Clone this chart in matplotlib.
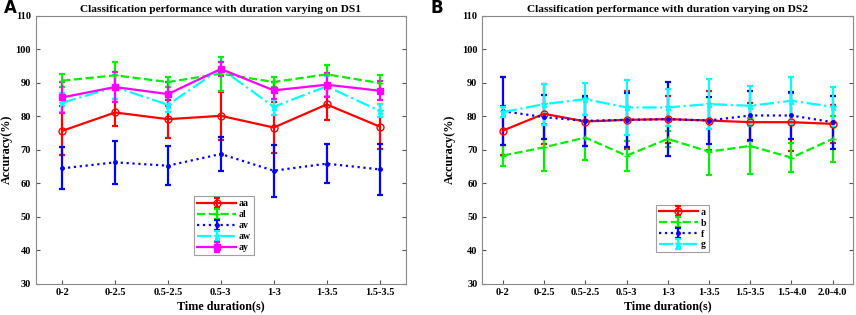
import numpy as np
import matplotlib
matplotlib.use('Agg')
import matplotlib.pyplot as plt

plt.rcParams['font.family'] = 'Liberation Serif'
plt.rcParams['font.weight'] = 'bold'

# panel A data (DS1)
labelsA = ['0-2', '0-2.5', '0.5-2.5', '0.5-3', '1-3', '1-3.5', '1.5-3.5']
aa = [75.6, 81.1, 79.1, 80.1, 76.6, 83.5, 76.9]
aa_err = [7.3, 4.0, 5.7, 7.2, 7.7, 4.7, 6.7]
al = [90.6, 92.2, 90.2, 92.7, 90.2, 92.5, 89.9]
al_err = [2.0, 3.9, 1.5, 5.1, 1.5, 2.9, 2.4]
av = [64.4, 66.2, 65.2, 68.7, 63.7, 65.8, 64.1]
av_err = [6.3, 6.4, 5.9, 5.2, 7.8, 5.8, 7.7]
aw = [84.0, 88.7, 83.4, 94.2, 82.8, 88.9, 81.6]
aw_err = [2.9, 3.5, 2.3, 2.0, 2.4, 3.0, 2.0]
ay = [85.6, 88.7, 86.6, 94.1, 87.7, 89.4, 87.6]
ay_err = [4.7, 4.4, 3.5, 2.0, 2.6, 3.6, 2.8]

# panel B data (DS2)
labelsB = ['0-2', '0-2.5', '0.5-2.5', '0.5-3', '1-3', '1-3.5', '1.5-3.5', '1.5-4.0', '2.0-4.0']
a = [75.7, 80.7, 78.4, 78.9, 79.1, 78.7, 78.2, 78.2, 77.7]
a_err = [7.3, 9.0, 7.2, 8.7, 7.0, 8.9, 5.7, 8.6, 5.6]
b = [68.2, 70.7, 73.6, 68.2, 73.2, 69.4, 71.1, 67.6, 73.2]
b_err = [3.1, 7.0, 6.7, 4.5, 2.4, 6.9, 8.4, 4.3, 6.8]
f = [81.5, 79.7, 78.6, 78.9, 79.1, 78.7, 80.2, 80.2, 78.2]
f_err = [10.2, 6.6, 7.5, 8.0, 11.0, 7.0, 7.3, 7.0, 7.9]
g = [81.2, 83.6, 85.1, 82.6, 82.6, 83.6, 83.1, 84.6, 82.8]
g_err = [1.5, 6.1, 4.9, 8.2, 5.4, 7.5, 6.0, 7.0, 6.0]

fig = plt.figure(figsize=(8.56, 3.15), dpi=100)
axA = fig.add_axes([0.0417, 0.1, 0.4326, 0.85])
axB = fig.add_axes([0.5634, 0.1, 0.4334, 0.85])

def draw(ax, n, series, labels, title, legpos, ylx):
    x = np.arange(1, n + 1)
    for vals, err, col, ls, mk, name, mfc in series:
        ax.errorbar(x, vals, yerr=err, color=col, ls=ls, marker=mk, lw=1.6,
                    markersize=5, mfc=mfc, capsize=2.5, capthick=1.6,
                    elinewidth=1.6, label=name)
    ax.set_xlim(0.5, n + 0.5)
    ax.set_ylim(30, 110)
    ax.set_yticks(range(30, 111, 10))
    ax.set_xticks(x)
    ax.set_xticklabels(labels)
    ax.tick_params(direction='in', labelsize=7.5, length=3, colors='#555555',
                   labelcolor='black', top=False, right=True)
    for sp in ax.spines.values():
        sp.set_color('#888888')
    ax.set_xlabel('Time duration(s)', fontsize=8.7, fontweight='bold', labelpad=2)
    ax.set_ylabel('Accuracy(%)', fontsize=8.7, fontweight='bold')
    ax.yaxis.set_label_coords(ylx, 0.5)
    ax.set_title(title, fontsize=8.2, fontweight='bold', pad=3)
    leg = ax.legend(loc='lower left', bbox_to_anchor=legpos, fontsize=7,
                    fancybox=False, edgecolor='#888888', handlelength=4.0,
                    borderpad=0.3, labelspacing=0.2, handletextpad=0.3)
    leg.get_frame().set_linewidth(0.8)

draw(axA, 7, [
    (aa, aa_err, 'red', '-', 'o', 'aa', 'none'),
    (al, al_err, '#00ee00', '--', '+', 'al', 'none'),
    (av, av_err, 'blue', ':', '.', 'av', 'blue'),
    (aw, aw_err, 'cyan', '-.', '*', 'aw', 'cyan'),
    (ay, ay_err, 'magenta', '-', 's', 'ay', 'magenta'),
], labelsA, 'Classification performance with duration varying on DS1', (0.415, 0.088), -0.062)

draw(axB, 9, [
    (a, a_err, 'red', '-', 'o', 'a', 'none'),
    (b, b_err, '#00ee00', '--', '+', 'b', 'none'),
    (f, f_err, 'blue', ':', '.', 'f', 'blue'),
    (g, g_err, 'cyan', '-.', '*', 'g', 'cyan'),
], labelsB, 'Classification performance with duration varying on DS2', (0.455, 0.098), -0.072)

fig.text(0.004, 0.96, 'A', fontsize=12, fontweight='bold', family='DejaVu Sans')
fig.text(0.503, 0.96, 'B', fontsize=12, fontweight='bold', family='DejaVu Sans')

fig.savefig('out.png', dpi=100)
